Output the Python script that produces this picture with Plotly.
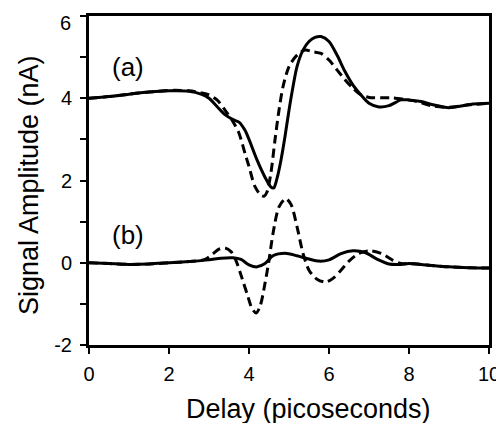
import plotly.graph_objects as go

# curve (a), solid and dashed
xa_solid = [0, 0.5, 1, 1.5, 2, 2.5, 2.8, 3.0, 3.2, 3.4, 3.6, 3.75, 3.9, 4.0, 4.2, 4.4, 4.55, 4.62,
            4.7, 4.8, 4.9, 5.0, 5.1, 5.2, 5.35, 5.5, 5.65, 5.8, 6.0, 6.2, 6.4, 6.6, 6.8, 7.0, 7.25,
            7.5, 7.8, 8.0, 8.3, 8.6, 9.0, 9.3, 9.6, 10]
ya_solid = [4.0, 4.04, 4.1, 4.15, 4.18, 4.17, 4.1, 4.0, 3.8, 3.6, 3.48, 3.42, 3.22, 3.0, 2.5, 2.08,
            1.84, 1.82, 2.05, 2.5, 3.07, 3.71, 4.28, 4.77, 5.17, 5.38, 5.48, 5.5, 5.38, 5.05, 4.65,
            4.32, 4.08, 3.88, 3.79, 3.82, 3.96, 3.96, 3.92, 3.84, 3.77, 3.81, 3.86, 3.88]

xa_dash = [0, 0.5, 1, 1.5, 2, 2.5, 2.8, 3.0, 3.2, 3.4, 3.6, 3.75, 3.9, 4.0, 4.15, 4.3, 4.38, 4.45,
           4.55, 4.65, 4.75, 4.85, 5.0, 5.2, 5.4, 5.6, 5.8, 6.0, 6.2, 6.4, 6.6, 6.8, 7.0, 7.3, 7.6,
           7.9, 8.2, 8.6, 9.0, 9.5, 10]
ya_dash = [4.0, 4.04, 4.1, 4.15, 4.19, 4.18, 4.13, 4.08, 3.96, 3.71, 3.43, 3.15, 2.66, 2.34, 1.85,
           1.64, 1.62, 1.72, 2.2, 2.99, 3.71, 4.28, 4.77, 5.05, 5.17, 5.13, 5.09, 4.93, 4.69, 4.45,
           4.24, 4.08, 4.02, 4.01, 4.01, 3.97, 3.92, 3.81, 3.78, 3.84, 3.88]

# curve (b), solid and dashed
xb_solid = [0, 0.5, 1, 1.5, 2, 2.5, 3, 3.3, 3.6, 3.8, 4.0, 4.2, 4.4, 4.6, 4.9, 5.2, 5.5, 5.75, 6.0,
            6.3, 6.6, 6.9, 7.2, 7.5, 7.8, 8.0, 8.5, 9.0, 9.5, 10]
yb_solid = [0.0, -0.02, -0.04, -0.03, 0.0, 0.03, 0.07, 0.11, 0.12, 0.08, -0.05, -0.1, -0.02, 0.17,
            0.23, 0.17, 0.09, 0.04, 0.07, 0.22, 0.29, 0.25, 0.09, -0.03, -0.04, -0.02, -0.06, -0.1,
            -0.12, -0.13]

xb_dash = [0, 0.5, 1, 1.5, 2, 2.5, 2.9, 3.1, 3.25, 3.4, 3.55, 3.68, 3.8, 3.95, 4.08, 4.18, 4.28,
           4.4, 4.5, 4.6, 4.75, 4.92, 5.05, 5.2, 5.35, 5.5, 5.7, 5.92, 6.1, 6.3, 6.5, 6.75, 7.0,
           7.3, 7.6, 7.8, 8.0, 8.5, 9.0, 9.5, 10]
yb_dash = [0.0, -0.02, -0.04, -0.03, 0.0, 0.03, 0.08, 0.22, 0.33, 0.36, 0.27, 0.04, -0.3, -0.75,
           -1.12, -1.22, -1.05, -0.5, 0.06, 0.71, 1.36, 1.56, 1.42, 0.88, 0.23, -0.18, -0.4, -0.47,
           -0.38, -0.18, 0.04, 0.23, 0.29, 0.23, 0.06, -0.02, -0.02, -0.06, -0.1, -0.12, -0.13]

y_tickvals = [-2, 0, 2, 4, 6]
# top label "6" sits a little below its tick in the original, drawn separately
y_ticktext = ["-2", "0", "2", "4", ""]

FONT = "Liberation Sans, Arial, Helvetica, sans-serif"

fig = go.Figure()

for xs, ys, dash in [
    (xa_dash, ya_dash, "9px,5px"),
    (xa_solid, ya_solid, "solid"),
    (xb_dash, yb_dash, "9px,5px"),
    (xb_solid, yb_solid, "solid"),
]:
    fig.add_trace(
        go.Scatter(
            x=xs,
            y=ys,
            mode="lines",
            line=dict(color="black", width=3, dash=dash, shape="spline", smoothing=0.8),
            showlegend=False,
            hoverinfo="skip",
        )
    )

# page body has an 8px margin, so the figure is 8px smaller and shifted
fig.update_layout(
    width=496,
    height=415,
    margin=dict(l=81, r=15, t=8, b=78),
    plot_bgcolor="white",
    paper_bgcolor="white",
    font=dict(family=FONT, color="black"),
    xaxis=dict(
        range=[0, 10],
        tickvals=[0, 2, 4, 6, 8, 10],
        ticks="outside",
        ticklen=6,
        tickwidth=2,
        tickcolor="black",
        tickfont=dict(size=20),
        ticklabelstandoff=3,
        ticklabeloverflow="allow",
        showline=True,
        linecolor="black",
        linewidth=3,
        mirror=True,
        showgrid=False,
        zeroline=False,
        automargin=False,
    ),
    yaxis=dict(
        range=[-2, 6],
        tickvals=y_tickvals,
        ticktext=y_ticktext,
        ticks="outside",
        ticklen=6,
        tickwidth=2,
        tickcolor="black",
        tickfont=dict(size=20),
        ticklabelstandoff=4,
        ticklabeloverflow="allow",
        minor=dict(tickvals=[-1, 1, 3, 5], ticks="outside", ticklen=6, tickwidth=2,
                   tickcolor="black"),
        showline=True,
        linecolor="black",
        linewidth=3,
        mirror=True,
        showgrid=False,
        zeroline=False,
        automargin=False,
    ),
)

fig.add_annotation(text="6", xref="paper", x=0, y=6, xanchor="right", xshift=-16, yshift=-7,
                   showarrow=False, font=dict(size=20))

# axis titles and curve labels
fig.add_annotation(text="Delay (picoseconds)", xref="paper", yref="paper", x=0.5475, y=-0.195,
                   xanchor="center", yanchor="middle", showarrow=False, font=dict(size=27))
fig.add_annotation(text="Signal Amplitude (nA)", xref="paper", yref="paper", x=-0.15, y=0.486,
                   xanchor="center", yanchor="middle", textangle=-90, showarrow=False,
                   font=dict(size=27))
fig.add_annotation(text="(a)", x=0.975, y=4.76, showarrow=False, font=dict(size=26))
fig.add_annotation(text="(b)", x=0.975, y=0.675, showarrow=False, font=dict(size=26))

fig.write_html("out.html")
